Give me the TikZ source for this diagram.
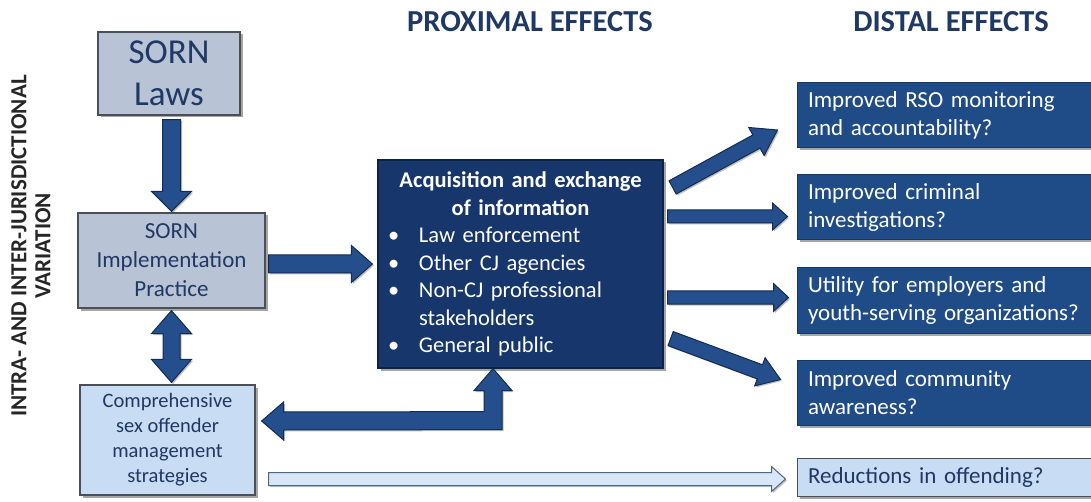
\documentclass[tikz,border=0pt]{standalone}
\usepackage{fontspec}
\setmainfont{Carlito}
\usetikzlibrary{calc,shadows}
\definecolor{navytext}{HTML}{1F3864}
\definecolor{darktext}{HTML}{262626}
\definecolor{boxgray}{HTML}{B8C3D6}
\definecolor{boxedge}{HTML}{4A4F58}
\definecolor{boxlight}{HTML}{C8DCF4}
\definecolor{infofill}{HTML}{17366C}
\definecolor{infoedge}{HTML}{0E2247}
\definecolor{distfill}{HTML}{1F4C87}
\definecolor{distedge}{HTML}{163866}
\definecolor{arrowfill}{HTML}{244F8C}
\definecolor{arrowedge}{HTML}{142C52}
\definecolor{lightarrow}{HTML}{D8E6F7}
\definecolor{lightedge}{HTML}{4F6787}

\newcommand\blockarrow[6][]{%
  \coordinate (bah) at ($(#3)!#6!(#2)$);
  \draw[#1] ($(#2)!#4!90:(#3)$) -- ($(bah)!#4!90:(#3)$) -- ($(bah)!#5!90:(#3)$)
    -- (#3) -- ($(bah)!#5!-90:(#3)$) -- ($(bah)!#4!-90:(#3)$)
    -- ($(#2)!#4!-90:(#3)$) -- cycle;
}
\newcommand\doublearrow[6][]{%
  \coordinate (daa) at ($(#2)!#6!(#3)$);
  \coordinate (dab) at ($(#3)!#6!(#2)$);
  \draw[#1] (#2) -- ($(daa)!#5!90:(#3)$) -- ($(daa)!#4!90:(#3)$)
    -- ($(dab)!#4!90:(#3)$) -- ($(dab)!#5!90:(#3)$) -- (#3)
    -- ($(dab)!#5!-90:(#3)$) -- ($(dab)!#4!-90:(#3)$)
    -- ($(daa)!#4!-90:(#3)$) -- ($(daa)!#5!-90:(#3)$) -- cycle;
}
\newcommand\infobullet{\makebox[31pt][l]{\textbullet}}

\tikzset{
  shade3/.style={drop shadow={shadow xshift=2.5pt, shadow yshift=-2.5pt, opacity=0.35, fill=black}},
  graybox/.style={draw=boxedge, line width=1.2pt, fill=boxgray, shade3, text=navytext,
    align=center, inner sep=0pt},
  lightbox/.style={draw=boxedge, line width=1.2pt, fill=boxlight, shade3, text=navytext,
    align=center, inner sep=0pt},
  infobox/.style={draw=infoedge, line width=1.2pt, fill=infofill, shade3, text=white,
    inner xsep=10pt, inner ysep=0pt, text width=265pt,
    font=\fontsize{22.5}{27.5}\selectfont},
  distbox/.style={draw=distedge, line width=1pt, fill=distfill, shade3, text=white,
    align=left, inner xsep=11pt, inner ysep=0pt, text width=281pt, minimum width=303pt,
    font=\fontsize{23}{28}\selectfont},
  distlight/.style={draw=boxedge, line width=1pt, fill=boxlight, shade3, text=navytext,
    align=left, inner xsep=11pt, inner ysep=0pt, text width=281pt, minimum width=303pt,
    font=\fontsize{23}{28}\selectfont},
  heading/.style={text=navytext, font=\fontsize{30.5}{34}\selectfont\bfseries, inner sep=0pt},
  vtext/.style={text=darktext, font=\fontsize{23}{24}\selectfont\bfseries, align=center, inner sep=0pt},
  bigarrow/.style={fill=arrowfill, draw=arrowedge, line width=1pt, line join=miter,
    drop shadow={shadow xshift=1.5pt, shadow yshift=-1.5pt, opacity=0.25, fill=black}},
  thinarrow/.style={fill=lightarrow, draw=lightedge, line width=1pt, line join=miter,
    drop shadow={shadow xshift=1.5pt, shadow yshift=-1.5pt, opacity=0.25, fill=black}},
}

\begin{document}
\begin{tikzpicture}[x=1pt,y=-1pt]
\useasboundingbox (0,0) rectangle (1091,502);

% headings
\node[heading] (prox) at (530,22) {PROXIMAL EFFECTS};
\node[heading] (dist) at (951,22) {DISTAL EFFECTS};

% vertical label
\node[vtext, rotate=90] (var) at (31,246) {INTRA- AND INTER-JURISDICTIONAL\\VARIATION};

% left column
\node[graybox, minimum width=142pt, minimum height=83pt,
      font=\fontsize{35}{42}\selectfont] (laws) at (169,73.5) {SORN\\Laws};
\node[graybox, minimum width=187pt, minimum height=95pt,
      font=\fontsize{23}{29}\selectfont] (impl) at (171.5,260.5) {SORN\\Implementation\\Practice};
\node[lightbox, minimum width=175pt, minimum height=110pt,
      font=\fontsize{20.5}{25}\selectfont] (comp) at (167.5,440) {Comprehensive\\sex offender\\management\\strategies};

% central box
\node[infobox, minimum width=285pt, minimum height=208pt] (info) at (520.5,264) {%
  \setlength{\parindent}{0pt}%
  {\centering\bfseries Acquisition and exchange\\ of information\par}
  \infobullet Law enforcement\\
  \infobullet Other CJ agencies\\
  \infobullet Non-CJ professional\\
  \hspace*{31pt}stakeholders\\
  \infobullet General public\par};

% distal boxes
\node[distbox, minimum height=65pt] (d1) at (948.5,115.5) {Improved RSO monitoring\\and accountability?};
\node[distbox, minimum height=65pt] (d2) at (948.5,207.5) {Improved criminal\\investigations?};
\node[distbox, minimum height=65pt] (d3) at (948.5,300.5) {Utility for employers and\\youth-serving organizations?};
\node[distbox, minimum height=65pt] (d4) at (948.5,392.5) {Improved community\\awareness?};
\node[distlight, minimum height=38pt] (d5) at (948.5,477) {Reductions in offending?};

% connectors: left column
\coordinate (a1s) at ($(laws.south -| impl.north)+(0,4)$);
\coordinate (a1e) at ($(impl.north)+(0,-1)$);
\blockarrow[bigarrow]{a1s}{a1e}{9pt}{20pt}{20pt}

\coordinate (a2s) at ($(impl.east)+(3,3.5)$);
\coordinate (a2e) at ($(info.west |- impl.east)+(-5,3.5)$);
\blockarrow[bigarrow]{a2s}{a2e}{9pt}{18.5pt}{21pt}

\coordinate (a3s) at ($(impl.south)+(0,2)$);
\coordinate (a3e) at ($(impl.south |- comp.north)+(0,-2)$);
\doublearrow[bigarrow]{a3s}{a3e}{8.5pt}{20pt}{23pt}

% elbow arrow: info -> comp
\coordinate (et) at ($(info.south)+(-27.5,0)$);
\coordinate (el) at ($(comp.east)+(6,-19)$);
\draw[bigarrow] (et) -- ++(19,22) -- ++(-10,0) -- ++(0,39) -- ($(el)+(22,9)$)
  -- ($(el)+(22,19)$) -- (el) -- ($(el)+(22,-19)$) -- ($(el)+(22,-9)$)
  -- ($(et)+(-9,43)$) -- ($(et)+(-9,22)$) -- ($(et)+(-19,22)$) -- cycle;

% connectors: right column
\coordinate (r1s) at ($(info.north east)+(9,28)$);
\coordinate (r1e) at ($(d1.west)+(-19,14.5)$);
\blockarrow[bigarrow]{r1s}{r1e}{7.5pt}{16pt}{24pt}

\coordinate (r2s) at ($(info.east |- d2.west)+(4,9)$);
\coordinate (r2e) at ($(d2.west)+(-9,9)$);
\blockarrow[bigarrow]{r2s}{r2e}{6.5pt}{13.5pt}{15pt}

\coordinate (r3s) at ($(info.east |- d3.west)+(4,-3)$);
\coordinate (r3e) at ($(d3.west)+(-8,-3)$);
\blockarrow[bigarrow]{r3s}{r3e}{6.5pt}{14pt}{15pt}

\coordinate (r4s) at ($(info.south east)+(7,-30)$);
\coordinate (r4e) at ($(d4.west)+(-16,-13)$);
\blockarrow[bigarrow]{r4s}{r4e}{7.5pt}{15pt}{22pt}

% light arrow comp -> d5
\coordinate (l1s) at ($(comp.east |- d5.west)+(13,2)$);
\coordinate (l1e) at ($(d5.west)+(-11,2)$);
\blockarrow[thinarrow]{l1s}{l1e}{6.5pt}{12.5pt}{14pt}
\end{tikzpicture}
\end{document}
